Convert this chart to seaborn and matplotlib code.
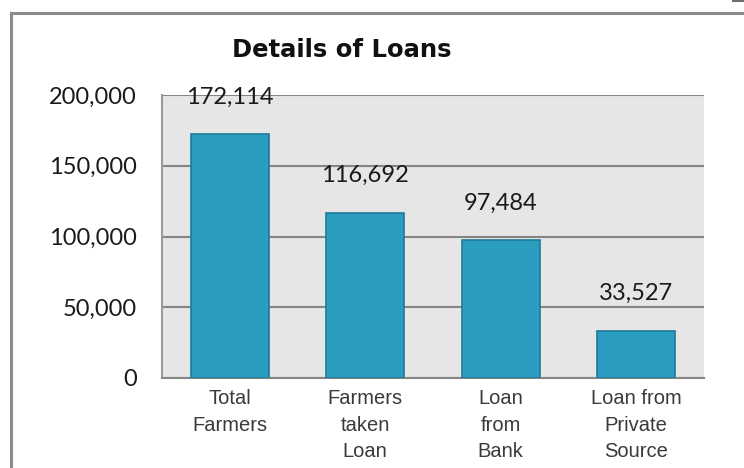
import matplotlib
matplotlib.use("Agg")
import matplotlib.pyplot as plt
import seaborn as sns
import pandas as pd
from matplotlib.lines import Line2D
from matplotlib.ticker import FuncFormatter

# Loan survey figures
categories = ["Total\nFarmers", "Farmers\ntaken\nLoan", "Loan\nfrom\nBank", "Loan from\nPrivate\nSource"]
values = [172114, 116692, 97484, 33527]
y_ticks = [0, 50000, 100000, 150000, 200000]
title = "Details of Loans"

df = pd.DataFrame({"category": categories, "count": values})

bar_color = "#2A9DC0"
edge_color = "#1E7C98"
panel_color = "#E6E6E6"
grid_color = "#858585"

fig = plt.figure(figsize=(7.44, 4.68), dpi=100)
fig.patch.set_facecolor("white")

ax = fig.add_axes([162 / 744, 1 - 378 / 468, (704 - 162) / 744, (378 - 95) / 468])
ax.set_facecolor(panel_color)

sns.barplot(data=df, x="category", y="count", color=bar_color, width=0.575,
            edgecolor=edge_color, linewidth=1.2, saturation=1, ax=ax, zorder=3)

ax.set_ylim(0, 200000)
ax.set_xlim(-0.5, len(categories) - 0.5)
ax.set_yticks(y_ticks)
ax.yaxis.set_major_formatter(FuncFormatter(lambda v, _: f"{int(v):,}"))
ax.set_xlabel("")
ax.set_ylabel("")

ax.grid(axis="y", color=grid_color, linewidth=1.5, zorder=0)
ax.grid(axis="x", visible=False)
ax.set_axisbelow(True)
for side in ["right", "top"]:
    ax.spines[side].set_visible(False)
ax.spines["left"].set_color("#9A9A9A")
ax.spines["left"].set_linewidth(1.5)
ax.spines["bottom"].set_color(grid_color)
ax.spines["bottom"].set_linewidth(1.5)

ax.tick_params(axis="y", length=0, pad=18)
ax.tick_params(axis="x", length=0, pad=8)
for lbl in ax.get_yticklabels():
    lbl.set_fontfamily(["Lato", "DejaVu Sans"])
    lbl.set_fontsize(17)
    lbl.set_color("#1A1A1A")
for lbl in ax.get_xticklabels():
    lbl.set_fontfamily(["Liberation Sans", "DejaVu Sans"])
    lbl.set_fontsize(14.5)
    lbl.set_color("#3A3A3A")
    lbl.set_linespacing(1.5)

# value labels above the bars
for patch, v in zip(ax.patches, values):
    cx = patch.get_x() + patch.get_width() / 2
    ax.annotate(f"{v:,}", xy=(cx, v), xytext=(0, 22), textcoords="offset points",
                ha="center", va="baseline", fontsize=17, color="#1A1A1A",
                fontfamily=["Lato", "DejaVu Sans"], annotation_clip=False)

fig.text(342 / 744, 1 - 50 / 468, title, ha="center", va="center",
         fontsize=17.5, fontweight="bold", color="#111111",
         fontfamily=["DejaVu Sans"])

# frame around the chart area
fig.add_artist(Line2D([10.5 / 744, 10.5 / 744], [0, 1 - 13 / 468], transform=fig.transFigure,
                      color="#8C8C8C", linewidth=2.2))
fig.add_artist(Line2D([10.5 / 744, 1], [1 - 13 / 468, 1 - 13 / 468], transform=fig.transFigure,
                      color="#8C8C8C", linewidth=2.2))
fig.add_artist(Line2D([733 / 744, 1], [1 - 0.8 / 468, 1 - 0.8 / 468], transform=fig.transFigure,
                      color="#6E6E6E", linewidth=1.5))

fig.savefig("out.png", dpi=100)
